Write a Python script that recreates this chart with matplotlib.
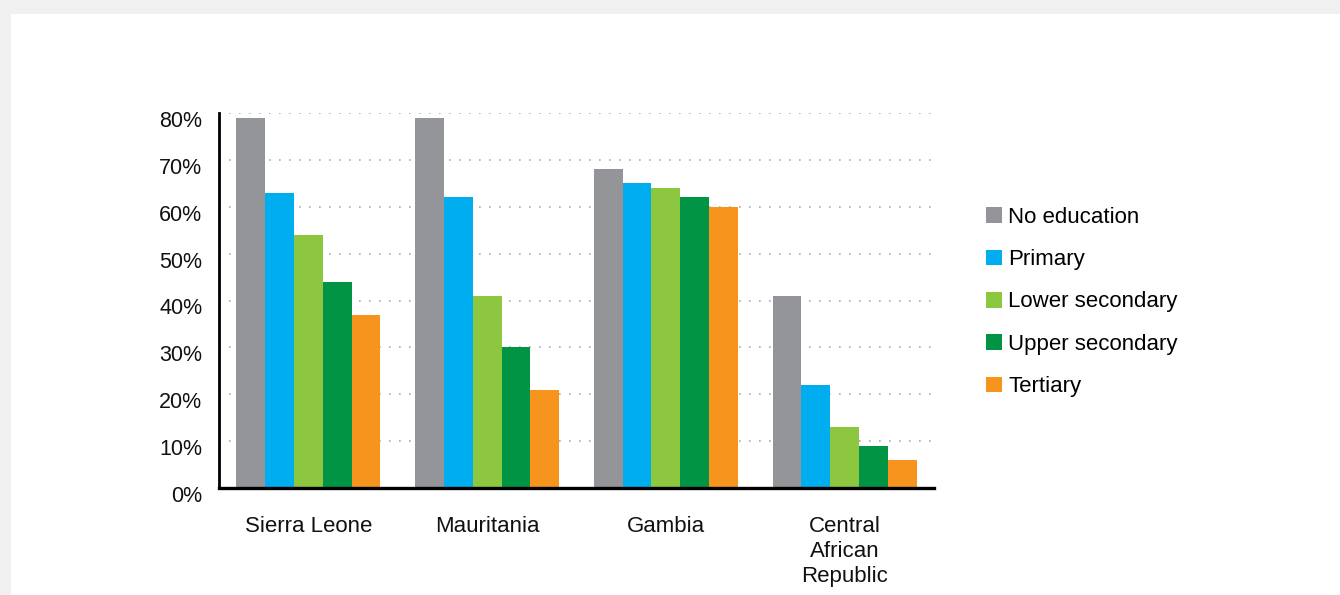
import matplotlib
matplotlib.use("Agg")
import matplotlib.pyplot as plt
import matplotlib.transforms as mtransforms
from matplotlib.patches import Rectangle
import numpy as np

plt.rcParams['font.family'] = ['Liberation Sans', 'DejaVu Sans']

countries = ["Sierra Leone", "Mauritania", "Gambia", "Central\nAfrican\nRepublic"]
series_names = ["No education", "Primary", "Lower secondary", "Upper secondary", "Tertiary"]
no_education = [79, 79, 68, 41]
primary = [63, 62, 65, 22]
lower_secondary = [54, 41, 64, 13]
upper_secondary = [44, 30, 62, 9]
tertiary = [37, 21, 60, 6]
series_values = [no_education, primary, lower_secondary, upper_secondary, tertiary]
colors = ["#939598", "#00aeef", "#8dc63f", "#009444", "#f7941d"]
yticks = [0, 10, 20, 30, 40, 50, 60, 70, 80]
ytick_labels = [f"{v}%" for v in yticks]

W, H = 1340, 595
fig = plt.figure(figsize=(W / 100, H / 100), dpi=100, facecolor="#f0f0f0")
fig.patches.append(Rectangle((11 / W, 0), 1 - 11 / W, 1 - 14 / H,
                             transform=fig.transFigure, facecolor="white",
                             edgecolor="none", zorder=-10))

ax = fig.add_axes([219 / W, 1 - 488 / H, (934 - 219) / W, (488 - 113) / H])
ax.set_zorder(2)
ax.set_facecolor("none")

x = np.arange(len(countries))
bw = 0.161
for i, (name, vals, c) in enumerate(zip(series_names, series_values, colors)):
    ax.bar(x + (i - 2) * bw, vals, width=bw, color=c, label=name, zorder=2,
           linewidth=0)

ax.set_xlim(-0.5, 3.5)
ax.set_ylim(0, 80)
ax.set_yticks(yticks)
ax.set_yticklabels(ytick_labels, fontsize=15.5, color="#111111")
ax.set_xticks(x)
ax.set_xticklabels(countries, fontsize=16, color="#111111", linespacing=1.25)
ax.tick_params(axis="both", length=0)
ax.tick_params(axis="y", pad=12)
ax.tick_params(axis="x", pad=20)

offset = mtransforms.ScaledTranslation(0, -6 / 100, fig.dpi_scale_trans)
for lbl in ax.get_yticklabels():
    lbl.set_transform(lbl.get_transform() + offset)

ax.yaxis.grid(True, linestyle=(0, (1, 5)), color="#aaaaaa", linewidth=1.2, zorder=1)
ax.set_axisbelow(True)
for s in ["top", "right"]:
    ax.spines[s].set_visible(False)
ax.spines["left"].set_linewidth(2.0)
ax.spines["bottom"].set_linewidth(2.4)
ax.spines["left"].set_color("black")
ax.spines["bottom"].set_color("black")

fig.legend(loc="center left", bbox_to_anchor=(986 / W, 1 - 302 / H),
           frameon=False, fontsize=16, handlelength=0.7, handleheight=0.7,
           handletextpad=0.3, labelspacing=0.96, borderpad=0, borderaxespad=0)

fig.savefig("out.png", dpi=100, facecolor=fig.get_facecolor())
